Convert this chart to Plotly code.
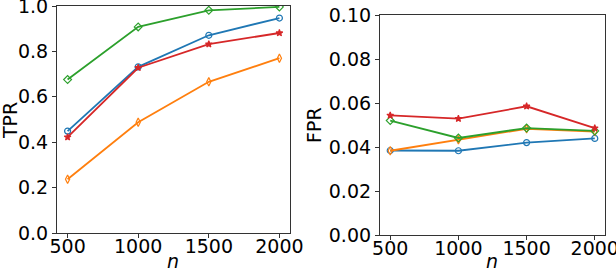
import plotly.graph_objects as go

n_values = [500, 1000, 1500, 2000]
series_names = ["blue", "orange", "green", "red"]
tpr_blue = [0.449, 0.732, 0.871, 0.947]
tpr_orange = [0.237, 0.488, 0.666, 0.770]
tpr_green = [0.676, 0.908, 0.981, 0.996]
tpr_red = [0.422, 0.728, 0.832, 0.881]
fpr_blue = [0.0384, 0.0383, 0.0420, 0.0439]
fpr_orange = [0.0383, 0.0433, 0.0483, 0.0470]
fpr_green = [0.0520, 0.0441, 0.0486, 0.0473]
fpr_red = [0.0544, 0.0529, 0.0585, 0.0486]
x_ticks = [500, 1000, 1500, 2000]
tpr_ticks = [0.0, 0.2, 0.4, 0.6, 0.8, 1.0]
fpr_ticks = [0.0, 0.02, 0.04, 0.06, 0.08, 0.10]

colors = ["#1f77b4", "#ff7f0e", "#2ca02c", "#d62728"]
symbols = ["circle-open", "diamond-tall-open", "diamond-open", "star"]
msizes = [6, 6, 6, 5]

W, H = 616, 274
fig = go.Figure()

tpr_all = [tpr_blue, tpr_orange, tpr_green, tpr_red]
fpr_all = [fpr_blue, fpr_orange, fpr_green, fpr_red]
for i in range(4):
    fig.add_trace(go.Scatter(x=n_values, y=tpr_all[i], mode="lines+markers",
                             line=dict(color=colors[i], width=1.8),
                             marker=dict(symbol=symbols[i], size=msizes[i], color=colors[i], line=dict(width=1.2, color=colors[i])),
                             xaxis="x", yaxis="y", showlegend=False, name=series_names[i]))
for i in range(4):
    fig.add_trace(go.Scatter(x=n_values, y=fpr_all[i], mode="lines+markers",
                             line=dict(color=colors[i], width=1.8),
                             marker=dict(symbol=symbols[i], size=msizes[i], color=colors[i], line=dict(width=1.2, color=colors[i])),
                             xaxis="x2", yaxis="y2", showlegend=False, name=series_names[i]))

font = dict(family="DejaVu Sans", size=19, color="black")
axis_common = dict(showline=True, linecolor="#333", linewidth=1.2, mirror=True,
                   ticks="outside", ticklen=4, tickcolor="#333", showgrid=False,
                   zeroline=False, tickfont=font, automargin=False,
                   ticklabeloverflow="allow")

fig.update_layout(
    width=W, height=H,
    margin=dict(l=0, r=0, t=0, b=0),
    plot_bgcolor="white", paper_bgcolor="white",
    xaxis=dict(domain=[57 / W, 290 / W], range=[425, 2075], tickvals=x_ticks,
               anchor="y", ticklabelstandoff=-8, **axis_common),
    yaxis=dict(domain=[1 - 233 / H, 1 - 6 / H], range=[0, 1.0], tickvals=tpr_ticks,
               tickformat=".1f", anchor="x", **axis_common),
    xaxis2=dict(domain=[380 / W, 605 / W], range=[425, 2075], tickvals=x_ticks,
                anchor="y2", ticklabelstandoff=-8, **axis_common),
    yaxis2=dict(domain=[1 - 235 / H, 1 - 15 / H], range=[0, 0.10], tickvals=fpr_ticks,
                tickformat=".2f", anchor="x2", **axis_common),
    annotations=[
        dict(text="TPR", x=10 / W, y=1 - 120 / H, xref="paper", yref="paper",
             textangle=-90, showarrow=False, font=font, xanchor="center", yanchor="middle"),
        dict(text="FPR", x=314 / W, y=1 - 125 / H, xref="paper", yref="paper",
             textangle=-90, showarrow=False, font=font, xanchor="center", yanchor="middle"),
        dict(text="<i>n</i>", x=173 / W, y=0, xref="paper", yref="paper",
             showarrow=False, font=font, xanchor="center", yanchor="bottom"),
        dict(text="<i>n</i>", x=492 / W, y=0, xref="paper", yref="paper",
             showarrow=False, font=font, xanchor="center", yanchor="bottom"),
    ],
)

fig.write_html("out.html", config={"displayModeBar": False},
               post_script="document.body.style.margin='0';document.body.style.overflow='hidden';")
